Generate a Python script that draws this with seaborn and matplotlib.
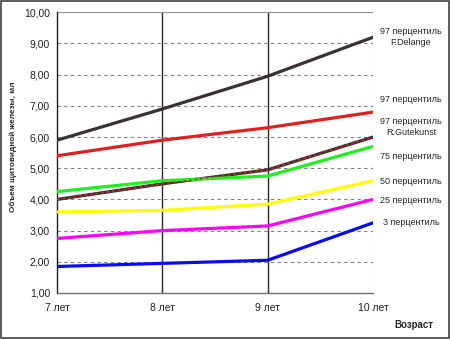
import matplotlib
matplotlib.use("Agg")
import matplotlib.pyplot as plt
import seaborn as sns
import pandas as pd
from matplotlib.patches import Rectangle
from matplotlib.ticker import FuncFormatter

ages = [7, 8, 9, 10]
age_labels = ["7 лет", "8 лет", "9 лет", "10 лет"]
delange_97 = [5.9, 6.9, 7.95, 9.2]
p97 = [5.4, 5.9, 6.3, 6.8]
gutekunst_97 = [4.0, 4.5, 4.95, 6.0]
p75 = [4.25, 4.6, 4.75, 5.7]
p50 = [3.6, 3.65, 3.85, 4.6]
p25 = [2.75, 3.0, 3.15, 4.0]
p3 = [1.85, 1.95, 2.05, 3.25]

series = {
    "delange": delange_97, "p97": p97, "gutekunst": gutekunst_97,
    "p75": p75, "p50": p50, "p25": p25, "p3": p3,
}
rows = []
for name, vals in series.items():
    for a, v in zip(ages, vals):
        rows.append({"age": a, "value": v, "series": name})
df = pd.DataFrame(rows)

colors = {
    "delange": "#3a3232", "p97": "#e02020", "gutekunst": "#3a3232",
    "p75": "#1ef01e", "p50": "#ffff00", "p25": "#ff00ff", "p3": "#0a0aff",
}

sns.set_style("white")
plt.rcParams["font.family"] = ["Liberation Sans", "DejaVu Sans"]

fig = plt.figure(figsize=(4.5, 3.39), dpi=100)
ax = fig.add_axes([57 / 450, 1 - 293 / 339, (373 - 57) / 450, (293 - 12.3) / 339])

# gridlines
for y in range(2, 10):
    ax.axhline(y, color="#808080", lw=0.8, ls=(0, (3, 3)), zorder=1)
for x in [8, 9]:
    ax.axvline(x, color="#302828", lw=1.0, zorder=1)
ax.axvline(10, color="#a0a0a0", lw=0.8, ls=(0, (3, 2)), zorder=1)
ax.axhline(10, color="#909090", lw=0.8, zorder=1)

sns.lineplot(data=df, x="age", y="value", hue="series", palette=colors,
             ax=ax, legend=False, lw=2.3, zorder=3, sort=False)
g = df[df["series"] == "gutekunst"]
sns.lineplot(data=g, x="age", y="value", color="#e02020", ax=ax, legend=False,
             lw=1.0, ls=(0, (2, 2)), zorder=4)

ax.set_xlim(7, 10)
ax.set_ylim(1, 10)
ax.set_xticks(ages)
ax.set_xticklabels(age_labels)
ax.set_yticks(range(1, 11))
ax.yaxis.set_major_formatter(FuncFormatter(lambda v, p: f"{v:.2f}".replace(".", ",")))
ax.tick_params(axis="both", labelsize=7.5, length=3, width=0.8, colors="#202020",
               direction="out", pad=2)
ax.tick_params(axis="x", pad=4)
for s in ["top", "right"]:
    ax.spines[s].set_visible(False)
ax.spines["left"].set_color("#202020")
ax.spines["bottom"].set_color("#707070")
ax.spines["left"].set_linewidth(1.0)
ax.spines["bottom"].set_linewidth(1.0)

ax.set_xlabel("")
ax.set_ylabel("")
fig.text(13 / 450, 1 - 147 / 339, "Объем щитовидной железы, мл", rotation=90,
         ha="center", va="center", fontsize=5.9, fontweight="bold")
fig.text(414 / 450, 1 - 325 / 339, "Возраст", ha="center", va="center",
         fontsize=7, fontweight="bold")

labels = [
    (9.21, "97 перцентиль\nF.Delange"),
    (7.19, "97 перцентиль"),
    (6.32, "97 перцентиль\nR.Gutekunst"),
    (5.39, "75 перцентиль"),
    (4.56, "50 перцентиль"),
    (3.98, "25 перцентиль"),
    (3.25, "3 перцентиль"),
]
for y, t in labels:
    ax.text(10.36, y, t, ha="center", va="center", fontsize=6.5,
            clip_on=False, linespacing=1.35)

fig.patches.append(Rectangle((0.002, 0.003), 0.996, 0.994, transform=fig.transFigure,
                             fill=False, edgecolor="#404040", lw=1.2))

fig.savefig("out.png", dpi=100)
